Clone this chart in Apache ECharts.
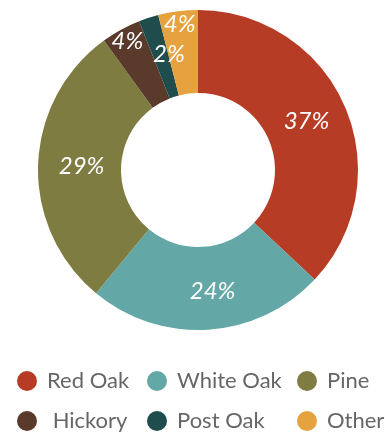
<!DOCTYPE html>
<html>
<head>
<meta charset="utf-8">
<style>
  html, body { margin: 0; padding: 0; background: #ffffff; }
  #chart { width: 385px; height: 433px; }
</style>
<script src="https://cdn.jsdelivr.net/npm/echarts@6/dist/echarts.min.js"></script>
</head>
<body>
<div id="chart"></div>
<script>
const categories = ['Red Oak', 'White Oak', 'Pine', 'Hickory', 'Post Oak', 'Other'];
const values = [37, 24, 29, 4, 2, 4];
const colors = ['#b63c25', '#63a7a6', '#7e7c41', '#5a3a2a', '#1f4c4d', '#e5a23e'];
// slices whose labels sit nearer the outer edge
const outerLabelCats = ['Hickory', 'Other'];
// small label nudges (padding: top, right, bottom, left)
const labelPads = {
  'Red Oak': [0, 6, 6, 0],
  'White Oak': [0, 0, 6, 14],
  'Pine': [0, 0, 12, 10],
  'Post Oak': [0, 0, 2, 17]
};

const chart = echarts.init(document.getElementById('chart'), null, { renderer: 'canvas' });

const labelFont = {
  color: '#ffffff',
  fontFamily: 'Lato',
  fontStyle: 'italic',
  fontSize: 24
};

const mainData = categories.map((c, i) => {
  const item = { name: c, value: values[i], itemStyle: { color: colors[i] } };
  if (outerLabelCats.includes(c)) {
    item.label = { show: false };
  } else if (labelPads[c]) {
    item.label = { padding: labelPads[c] };
  }
  return item;
});

const overlayData = categories.map((c, i) => ({
  name: c,
  value: values[i],
  itemStyle: { color: 'rgba(0,0,0,0)' },
  label: { show: outerLabelCats.includes(c) }
}));

const legendText = { color: '#666666', fontFamily: 'Lato', fontSize: 22, padding: [0, 0, 0, 5] };
const colLeft = [17, 147, 297];
const rowTop = [370, 410];

const legends = categories.map((c, i) => ({
  left: colLeft[i % 3],
  top: rowTop[Math.floor(i / 3)],
  padding: 0,
  itemWidth: 20,
  itemHeight: 20,
  icon: 'circle',
  selectedMode: false,
  data: [c],
  formatter: n => (n === 'Hickory' ? ' ' + n : n),
  textStyle: legendText
}));

chart.setOption({
  animation: false,
  legend: legends,
  series: [
    {
      type: 'pie',
      center: [198, 170],
      radius: [77, 160],
      startAngle: 90,
      clockwise: true,
      label: Object.assign({ show: true, position: 'inside', formatter: '{c}%' }, labelFont),
      labelLine: { show: false },
      emphasis: { disabled: true },
      data: mainData
    },
    {
      type: 'pie',
      center: [198, 170],
      radius: [127, 160],
      startAngle: 90,
      clockwise: true,
      silent: true,
      label: Object.assign({ position: 'inside', formatter: '{c}%' }, labelFont),
      labelLine: { show: false },
      emphasis: { disabled: true },
      data: overlayData
    }
  ]
});
</script>
</body>
</html>
